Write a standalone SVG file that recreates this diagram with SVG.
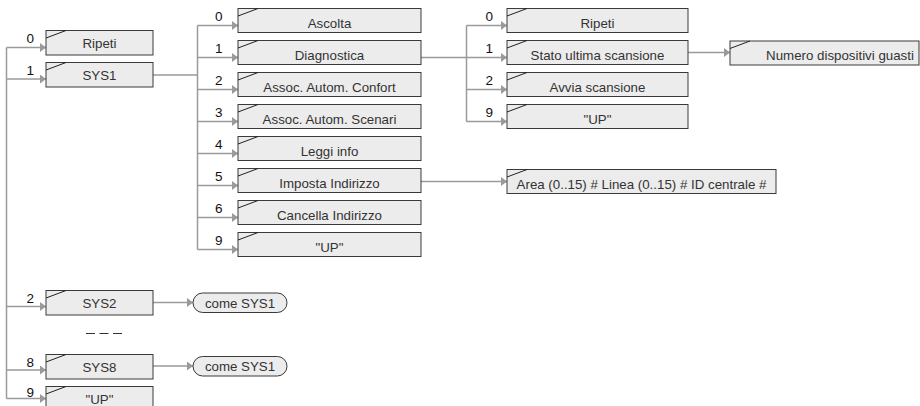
<svg xmlns="http://www.w3.org/2000/svg" width="920" height="406" viewBox="0 0 920 406">
<style>
.box{fill:#ececec;stroke:#3a3a3a;stroke-width:1}
.slash{stroke:#222;stroke-width:1;fill:none}
.t{font-family:"Liberation Sans",Arial,sans-serif;font-size:13.3px;fill:#333;text-anchor:middle}
.n{font-family:"Liberation Sans",Arial,sans-serif;font-size:13.5px;fill:#111;text-anchor:end}
.ln{stroke:#9a9a9a;stroke-width:1.5;fill:none}
.ar{stroke:#9a9a9a;stroke-width:1.5;fill:none;marker-end:url(#ah)}
</style>
<defs>
<marker id="ah" markerUnits="userSpaceOnUse" markerWidth="7" markerHeight="10" refX="6" refY="4.5" orient="auto" viewBox="0 0 7 10">
<path d="M0,0 L6,4.5 L0,9 z" fill="#9a9a9a"/>
</marker>
</defs>

<g id="connectors">
<!-- main trunk -->
<path class="ln" d="M6.5,47.5 V398.5"/>
<path class="ar" d="M6.5,47.5 H46"/>
<path class="ar" d="M6.5,79 H46"/>
<path class="ar" d="M6.5,306.5 H46"/>
<path class="ar" d="M6.5,370 H46"/>
<path class="ar" d="M6.5,398.5 H46"/>
<!-- SYS1 to level 2 -->
<path class="ln" d="M153,75 H197.5"/>
<path class="ln" d="M197.5,25.5 V249.5"/>
<path class="ar" d="M197.5,25.5 H238"/>
<path class="ar" d="M197.5,57.5 H238"/>
<path class="ar" d="M197.5,89.5 H238"/>
<path class="ar" d="M197.5,121.5 H238"/>
<path class="ar" d="M197.5,153.5 H238"/>
<path class="ar" d="M197.5,185.5 H238"/>
<path class="ar" d="M197.5,217.5 H238"/>
<path class="ar" d="M197.5,249.5 H238"/>
<!-- Diagnostica to level 3 -->
<path class="ln" d="M421,57.5 H466.5"/>
<path class="ln" d="M466.5,25.5 V121.5"/>
<path class="ar" d="M466.5,25.5 H507"/>
<path class="ar" d="M466.5,57.5 H507"/>
<path class="ar" d="M466.5,89.5 H507"/>
<path class="ar" d="M466.5,121.5 H507"/>
<!-- Stato to Numero -->
<path class="ar" d="M688,52.5 H730"/>
<!-- Imposta to Area -->
<path class="ar" d="M421,181.5 H507"/>
<!-- SYS2 / SYS8 to come SYS1 -->
<path class="ar" d="M153,302.5 H193"/>
<path class="ar" d="M153,366 H193"/>
</g>

<!-- main column -->
<g id="m0">
<text class="n" x="34" y="43">0</text>
<rect class="box" x="46" y="30.5" width="107" height="24.5"/>
<path class="slash" d="M46,38 L66,30.5"/>
<text class="t" x="99.5" y="48">Ripeti</text>
</g>
<g id="m1">
<text class="n" x="34" y="74.5">1</text>
<rect class="box" x="46" y="62.5" width="107" height="24.5"/>
<path class="slash" d="M46,70 L66,62.5"/>
<text class="t" x="99.5" y="80">SYS1</text>
</g>
<g id="m2">
<text class="n" x="34" y="302.5">2</text>
<rect class="box" x="46" y="290.5" width="107" height="24.5"/>
<path class="slash" d="M46,298 L66,290.5"/>
<text class="t" x="99.5" y="308">SYS2</text>
</g>
<g id="m8">
<text class="n" x="34" y="366.5">8</text>
<rect class="box" x="46" y="354.5" width="107" height="24.5"/>
<path class="slash" d="M46,362 L66,354.5"/>
<text class="t" x="99.5" y="372">SYS8</text>
</g>
<g id="m9">
<text class="n" x="34" y="397">9</text>
<rect class="box" x="46" y="386.5" width="107" height="24.5"/>
<path class="slash" d="M46,394 L66,386.5"/>
<text class="t" x="99.5" y="404">"UP"</text>
</g>

<g id="dots">
<path d="M86,333.5 H122" stroke="#333" stroke-width="1" stroke-dasharray="9 4.5"/>
</g>

<g id="c2">
<rect class="box" x="193" y="293" width="94" height="19.5" rx="9.75"/>
<text class="t" x="240" y="307.5">come SYS1</text>
</g>
<g id="c8">
<rect class="box" x="193" y="356.5" width="94" height="19.5" rx="9.75"/>
<text class="t" x="240" y="371">come SYS1</text>
</g>

<!-- level 2 -->
<g id="s0">
<text class="n" x="222.5" y="20.5">0</text>
<rect class="box" x="238" y="8.5" width="183" height="24"/>
<path class="slash" d="M238,16 L258,8.5"/>
<text class="t" x="329.5" y="27.5">Ascolta</text>
</g>
<g id="s1">
<text class="n" x="222.5" y="52.5">1</text>
<rect class="box" x="238" y="40.5" width="183" height="24"/>
<path class="slash" d="M238,48 L258,40.5"/>
<text class="t" x="329.5" y="59.5">Diagnostica</text>
</g>
<g id="s2">
<text class="n" x="222.5" y="84.5">2</text>
<rect class="box" x="238" y="72.5" width="183" height="24"/>
<path class="slash" d="M238,80 L258,72.5"/>
<text class="t" x="329.5" y="91.5">Assoc. Autom. Confort</text>
</g>
<g id="s3">
<text class="n" x="222.5" y="116.5">3</text>
<rect class="box" x="238" y="104.5" width="183" height="24"/>
<path class="slash" d="M238,112 L258,104.5"/>
<text class="t" x="329.5" y="123.5">Assoc. Autom. Scenari</text>
</g>
<g id="s4">
<text class="n" x="222.5" y="148.5">4</text>
<rect class="box" x="238" y="136.5" width="183" height="24"/>
<path class="slash" d="M238,144 L258,136.5"/>
<text class="t" x="329.5" y="155.5">Leggi info</text>
</g>
<g id="s5">
<text class="n" x="222.5" y="180.5">5</text>
<rect class="box" x="238" y="168.5" width="183" height="24"/>
<path class="slash" d="M238,176 L258,168.5"/>
<text class="t" x="329.5" y="187.5">Imposta Indirizzo</text>
</g>
<g id="s6">
<text class="n" x="222.5" y="212.5">6</text>
<rect class="box" x="238" y="200.5" width="183" height="24"/>
<path class="slash" d="M238,208 L258,200.5"/>
<text class="t" x="329.5" y="219.5">Cancella Indirizzo</text>
</g>
<g id="s9">
<text class="n" x="222.5" y="244.5">9</text>
<rect class="box" x="238" y="232.5" width="183" height="24"/>
<path class="slash" d="M238,240 L258,232.5"/>
<text class="t" x="329.5" y="251.5">"UP"</text>
</g>

<!-- level 3 -->
<g id="d0">
<text class="n" x="493" y="20.5">0</text>
<rect class="box" x="507" y="8.5" width="181" height="24"/>
<path class="slash" d="M507,16 L527,8.5"/>
<text class="t" x="597.5" y="27.5">Ripeti</text>
</g>
<g id="d1">
<text class="n" x="493" y="52.5">1</text>
<rect class="box" x="507" y="40.5" width="181" height="24"/>
<path class="slash" d="M507,48 L527,40.5"/>
<text class="t" x="597.5" y="59.5">Stato ultima scansione</text>
</g>
<g id="d2">
<text class="n" x="493" y="84.5">2</text>
<rect class="box" x="507" y="72.5" width="181" height="24"/>
<path class="slash" d="M507,80 L527,72.5"/>
<text class="t" x="597.5" y="91.5">Avvia scansione</text>
</g>
<g id="d9">
<text class="n" x="493" y="116.5">9</text>
<rect class="box" x="507" y="104.5" width="181" height="24"/>
<path class="slash" d="M507,112 L527,104.5"/>
<text class="t" x="597.5" y="123.5">"UP"</text>
</g>

<g id="numero">
<rect class="box" x="730" y="41" width="189" height="24"/>
<path class="slash" d="M730,48.5 L750,41"/>
<text class="t" x="840" y="60">Numero dispositivi guasti</text>
</g>
<g id="area">
<rect class="box" x="507" y="169.5" width="269" height="24"/>
<path class="slash" d="M507,177 L527,169.5"/>
<text class="t" x="641.5" y="188.5">Area (0..15) # Linea (0..15) # ID centrale #</text>
</g>
</svg>
